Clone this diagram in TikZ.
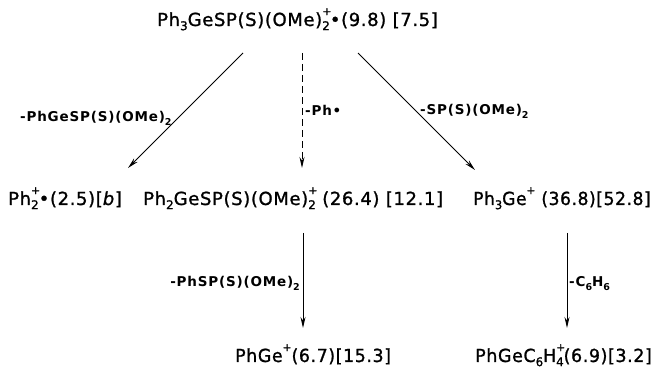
\documentclass[tikz,border=0pt]{standalone}
\usepackage{fontspec}
\usepackage{graphicx}
\setmainfont{DejaVu Sans}
\newfontfamily\mainfam[LetterSpace=3.5,FakeBold=1.2]{DejaVu Sans}
\newfontfamily\labfam[LetterSpace=6]{DejaVu Sans Bold}
\usetikzlibrary{arrows.meta}
\newcommand{\lowsub}[1]{\raisebox{-0.42ex}{\fontsize{12}{12}\selectfont #1}}
\newcommand{\highsup}[1]{\raisebox{1.1ex}{\fontsize{11}{11}\selectfont #1}}
\newcommand{\sbsp}[2]{\rlap{\highsup{#2}}\lowsub{#1}}
\newcommand{\lsub}[1]{\raisebox{-0.45ex}{\fontsize{9.5}{10}\selectfont #1}}
\begin{document}
\begin{tikzpicture}[x=1pt,y=-1pt,
  mainlbl/.style={inner sep=0pt,font=\mainfam\fontsize{18}{20}\selectfont},
  steplbl/.style={inner sep=0pt,font=\labfam\fontsize{13.5}{15}\selectfont},
  arr/.style={line width=1pt,-{Stealth[length=11pt,width=5pt]}},
  darr/.style={arr,dash pattern=on 7pt off 4pt}]
\useasboundingbox (0,0) rectangle (659,371);
% species
\node[mainlbl,anchor=base west] (top) at (157,26) {Ph\lowsub{3}GeSP(S)(OMe)\sbsp{2}{+}•(9.8) [7.5]};
\node[mainlbl,anchor=base west] (ph2) at (8,205) {Ph\sbsp{2}{+}•(2.5)[\textit{b}]};
\node[mainlbl,anchor=base west] (mid) at (143,205) {Ph\lowsub{2}GeSP(S)(OMe)\sbsp{2}{+} (26.4) [12.1]};
\node[mainlbl,anchor=base west] (ph3ge) at (473,205) {\scalebox{0.95}[1]{Ph\lowsub{3}Ge\highsup{+} (36.8)[52.8]}};
\node[mainlbl,anchor=base west] (phge) at (235,362) {\scalebox{0.965}[1]{PhGe\highsup{+}(6.7)[15.3]}};
\node[mainlbl,anchor=base west] (phgec) at (475,362) {\scalebox{0.97}[1]{PhGeC\lowsub{6}H\sbsp{4}{+}(6.9)[3.2]}};
% connector end points
\coordinate (a1s) at (243,53);  \coordinate (a1e) at (128,168);
\coordinate (a2s) at (302,53);  \coordinate (a2e) at (302,168);
\coordinate (a3s) at (358,53);  \coordinate (a3e) at (475,170);
\coordinate (a4s) at (303,233); \coordinate (a4e) at (303,328);
\coordinate (a5s) at (567,233); \coordinate (a5e) at (567,328);
\draw[arr] (a1s) -- (a1e);
\draw[darr] (a2s) -- (a2e);
\draw[arr] (a3s) -- (a3e);
\draw[arr] (a4s) -- (a4e);
\draw[arr] (a5s) -- (a5e);
% step labels
\node[steplbl,anchor=base west] (l1) at (20,122) {-PhGeSP(S)(OMe)\lsub{2}};
\node[steplbl,anchor=base west] (l2) at (305,116) {-Ph•};
\node[steplbl,anchor=base west] (l3) at (420,115) {-SP(S)(OMe)\lsub{2}};
\node[steplbl,anchor=base east] (l4) at (300,287) {-PhSP(S)(OMe)\lsub{2}};
\node[steplbl,anchor=base west] (l5) at (569,287) {-C\lsub{6}H\lsub{6}};
\end{tikzpicture}
\end{document}
